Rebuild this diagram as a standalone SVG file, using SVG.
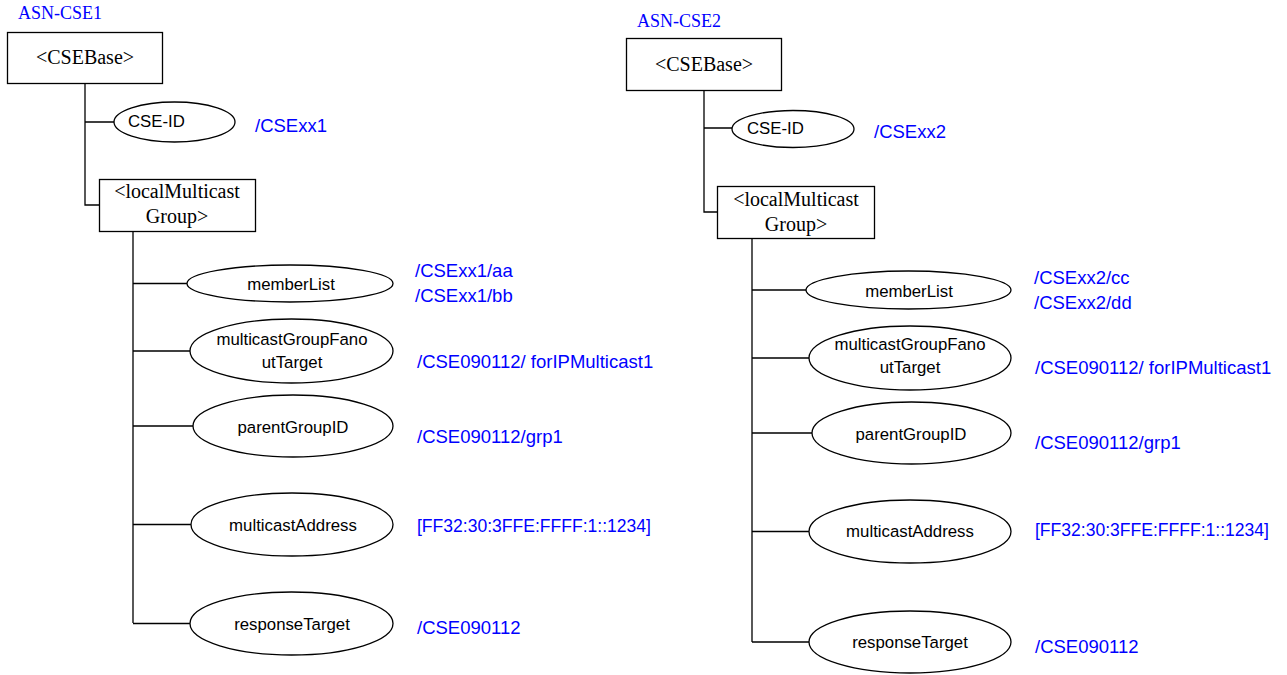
<svg xmlns="http://www.w3.org/2000/svg" width="1287" height="675" viewBox="0 0 1287 675">
<style>
.box{fill:#fff;stroke:#000;stroke-width:1.3}
.ell{fill:#fff;stroke:#000;stroke-width:1.3}
.ln{stroke:#000;stroke-width:1.3;fill:none}
.serif{font-family:"Liberation Serif","Times New Roman",serif;font-size:20px;fill:#000}
.title{font-family:"Liberation Serif","Times New Roman",serif;font-size:18px;fill:#0000ff}
.lab{font-family:"Liberation Sans",Arial,sans-serif;font-size:16.8px;fill:#000}
.val{font-family:"Liberation Sans",Arial,sans-serif;font-size:18.5px;fill:#0000ff}
.c{text-anchor:middle}
</style>
<rect width="1287" height="675" fill="#fff"/>
<g id="connectors">
<path class="ln" d="M85 83V205H99M85 122H114"/>
<path class="ln" d="M133 231V623M133 283.5H187M133 351H190M133 426H193M133 524.5H191M133 623.5H190"/>
<path class="ln" d="M704 90V212H717M704 128H732"/>
<path class="ln" d="M752 238V642M752 290H806M752 358H809M752 433H812M752 531.5H809M752 642H809"/>
</g>
<g id="left-title"><text class="title" x="18" y="19">ASN-CSE1</text></g>
<g id="left-csebase"><rect class="box" x="7.5" y="32.5" width="155" height="51"/><text class="serif c" x="85" y="64">&lt;CSEBase&gt;</text></g>
<g id="left-cseid"><ellipse class="ell" cx="174.5" cy="122" rx="60.5" ry="20"/><text class="lab" x="128" y="127">CSE-ID</text></g>
<g id="left-cseid-val"><text class="val" x="255" y="132">/CSExx1</text></g>
<g id="left-lmg"><rect class="box" x="99.5" y="179.5" width="156" height="52"/><text class="serif c" x="177" y="198">&lt;localMulticast</text><text class="serif c" x="177" y="223">Group&gt;</text></g>
<g id="left-memberList"><ellipse class="ell" cx="290" cy="283.5" rx="103" ry="18.5"/><text class="lab c" x="291" y="290">memberList</text></g>
<g id="left-memberList-val"><text class="val" x="415" y="277">/CSExx1/aa</text><text class="val" x="415" y="302">/CSExx1/bb</text></g>
<g id="left-fanout"><ellipse class="ell" cx="291.5" cy="351" rx="101.5" ry="32"/><text class="lab c" x="292" y="345">multicastGroupFano</text><text class="lab c" x="292" y="368">utTarget</text></g>
<g id="left-fanout-val"><text class="val" x="417" y="368">/CSE090112/ forIPMulticast1</text></g>
<g id="left-parent"><ellipse class="ell" cx="293" cy="426" rx="100" ry="31"/><text class="lab c" x="293" y="433">parentGroupID</text></g>
<g id="left-parent-val"><text class="val" x="417" y="443">/CSE090112/grp1</text></g>
<g id="left-addr"><ellipse class="ell" cx="292" cy="524.5" rx="101" ry="31.5"/><text class="lab c" x="293" y="531">multicastAddress</text></g>
<g id="left-addr-val"><text class="val" x="417" y="532" textLength="234" lengthAdjust="spacingAndGlyphs">[FF32:30:3FFE:FFFF:1::1234]</text></g>
<g id="left-resp"><ellipse class="ell" cx="291.5" cy="623.5" rx="101.5" ry="31.5"/><text class="lab c" x="292" y="630">responseTarget</text></g>
<g id="left-resp-val"><text class="val" x="417" y="634">/CSE090112</text></g>

<g id="right-title"><text class="title" x="637" y="27">ASN-CSE2</text></g>
<g id="right-csebase"><rect class="box" x="626.5" y="38.5" width="155" height="52"/><text class="serif c" x="704" y="71">&lt;CSEBase&gt;</text></g>
<g id="right-cseid"><ellipse class="ell" cx="793" cy="129" rx="61" ry="18.5"/><text class="lab" x="747" y="134">CSE-ID</text></g>
<g id="right-cseid-val"><text class="val" x="874" y="138">/CSExx2</text></g>
<g id="right-lmg"><rect class="box" x="717.5" y="186.5" width="157" height="52"/><text class="serif c" x="796" y="206">&lt;localMulticast</text><text class="serif c" x="796" y="231">Group&gt;</text></g>
<g id="right-memberList"><ellipse class="ell" cx="908.5" cy="290" rx="102.5" ry="19"/><text class="lab c" x="909" y="297">memberList</text></g>
<g id="right-memberList-val"><text class="val" x="1034" y="284">/CSExx2/cc</text><text class="val" x="1034" y="309">/CSExx2/dd</text></g>
<g id="right-fanout"><ellipse class="ell" cx="910" cy="358" rx="101" ry="32"/><text class="lab c" x="910" y="350">multicastGroupFano</text><text class="lab c" x="910" y="373">utTarget</text></g>
<g id="right-fanout-val"><text class="val" x="1035" y="374">/CSE090112/ forIPMulticast1</text></g>
<g id="right-parent"><ellipse class="ell" cx="911.5" cy="433" rx="99.5" ry="31"/><text class="lab c" x="911" y="440">parentGroupID</text></g>
<g id="right-parent-val"><text class="val" x="1035" y="449">/CSE090112/grp1</text></g>
<g id="right-addr"><ellipse class="ell" cx="910" cy="531.5" rx="101" ry="31.5"/><text class="lab c" x="910" y="537">multicastAddress</text></g>
<g id="right-addr-val"><text class="val" x="1035" y="536" textLength="234" lengthAdjust="spacingAndGlyphs">[FF32:30:3FFE:FFFF:1::1234]</text></g>
<g id="right-resp"><ellipse class="ell" cx="910" cy="642" rx="101" ry="31"/><text class="lab c" x="910" y="648">responseTarget</text></g>
<g id="right-resp-val"><text class="val" x="1035" y="653">/CSE090112</text></g>
</svg>
